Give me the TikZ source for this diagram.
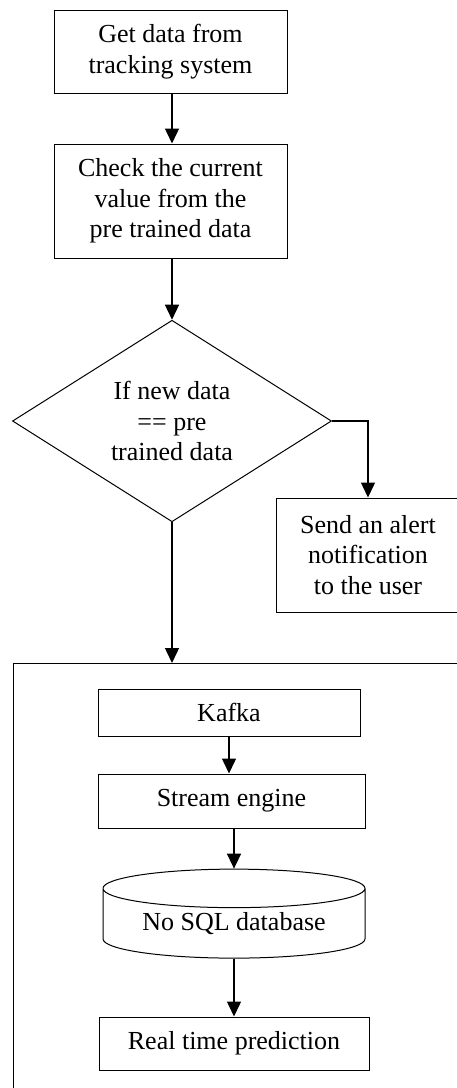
\documentclass[tikz,border=0pt]{standalone}
\usepackage{fontspec}
\setmainfont{Liberation Serif}
\usetikzlibrary{shapes.geometric,arrows.meta}
\begin{document}
\begin{tikzpicture}[x=1pt,y=-1pt,
  box/.style={draw, line width=1pt, inner sep=0pt, align=center, font=\fontsize{26}{30.5}\selectfont},
  flow/.style={line width=1.4pt, -{Triangle[length=15pt,width=14pt]}}]
\useasboundingbox (0,0) rectangle (457,1088);
\node[box, minimum width=233pt, minimum height=83pt] (getdata) at (170.5,51.5){Get data from\\tracking system};
\node[box, minimum width=233pt, minimum height=114pt] (check) at (170.5,201){Check the current\\value from the\\pre trained data};
\node[box, diamond, minimum width=319pt, minimum height=201pt] (decide) at (172,421){If new data\\== pre\\trained data};
\node[box, minimum width=184pt, minimum height=114pt] (alert) at (368,555){Send an alert\\notification\\to the user};
\node[draw, line width=1.3pt, minimum width=470pt, minimum height=450pt, anchor=north west] (frame) at (13,663){};
\node[box, minimum width=262pt, minimum height=47pt] (kafka) at (229,712.5){Kafka};
\node[box, minimum width=267pt, minimum height=54pt] (stream) at (231.5,801){Stream engine};
\node[box, cylinder, shape border rotate=90, aspect=0.21, minimum width=262pt, minimum height=89pt] (nosql) at (234,923.5){No SQL database};
\node[box, minimum width=270pt, minimum height=53pt] (real) at (234,1043.5){Real time prediction};
\draw[flow] (getdata.south -| decide.north) -- (decide.north |- check.north);
\draw[flow] (check.south -| decide.north) -- (decide.north);
\draw[flow] (decide.east) -| (alert.north);
\draw[flow] (decide.south) -- (decide.south |- frame.north);
\draw[flow] (kafka.south) -- (kafka.south |- stream.north);
\draw[flow] (nosql.north |- stream.south) -- (nosql.north);
\draw[flow] (nosql.south) -- (nosql.south |- real.north);
\end{tikzpicture}
\end{document}
